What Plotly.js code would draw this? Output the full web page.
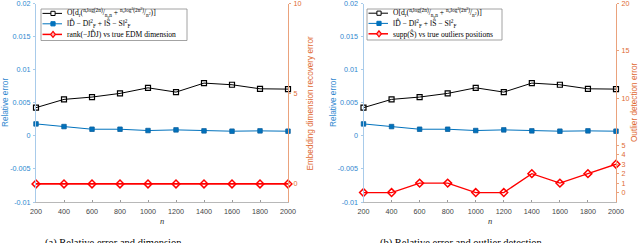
<!DOCTYPE html>
<html>
<head>
<meta charset="utf-8">
<script src="https://cdn.plot.ly/plotly-3.0.1.min.js"></script>
<style>html,body{margin:0;padding:0;background:#fff;}#chart{width:640px;height:243px;}</style>
</head>
<body>
<div id="chart"></div>
<script>
// ---------- data ----------
const nVals = [200, 400, 600, 800, 1000, 1200, 1400, 1600, 1800, 2000];
const boundVals = [0.00426, 0.00551, 0.00586, 0.00641, 0.00726, 0.00661, 0.00797, 0.00772, 0.00711, 0.00706];
const relErrVals = [0.0018, 0.0014, 0.0010, 0.0010, 0.0008, 0.0009, 0.00075, 0.0007, 0.00075, 0.0007];
const dimErrVals = [0, 0, 0, 0, 0, 0, 0, 0, 0, 0];
const outlierErrVals = [0, 0, 1, 1, 0, 0, 2, 1, 2, 3];
const leftTicks = [-0.01, -0.005, 0, 0.005, 0.01, 0.015, 0.02];
const leftTickText = ["-0.01", "-0.005", "0", "0.005", "0.01", "0.015", "0.02"];
const dimTicks = [0, 5, 10];
const outTicks = [0, 1, 2, 3, 4, 5, 10, 15, 20];
const legendBound = "O[d<sub>r</sub>(<sup>n<sub>r</sub>log(2n)</sup>/<sub>n<sub>o</sub>n</sub> + <sup>n<sub>o</sub>log<sup>2</sup>(2n<sup>2</sup>)</sup>/<sub>n<sup>2</sup></sub>)]";
const legendRel = "‖D\u0302 − D‖<sup>2</sup><sub>F</sub> + ‖S\u0302 − S‖<sup>2</sup><sub>F</sub>";
const legendDim = "rank(−JD\u0302J) vs true EDM dimension";
const legendOut = "supp(S\u0302) vs true outliers positions";

// ---------- styles ----------
const W = 640, H = 243;
const px = x => x / W;
const py = y => 1 - y / H;
const BLUE = '#0072BD', BLUE_TXT = '#2f88cf', BLUE_LINE = '#a8cbea';
const ORANGE_TXT = '#e06a33', ORANGE_LINE = '#eaa27c';
const RED = '#ff0000';
const tickFont = c => ({family: 'Liberation Sans, Arial', size: 7.2, color: c});

const yDom = [py(202), py(3.5)];
const xDomL = [px(36), px(288)];
const xDomR = [px(363.5), px(616)];

function xAxis(dom, anchor) {
  return {domain: dom, anchor: anchor, range: [200, 2000], tickvals: nVals,
    ticks: 'inside', ticklen: 2.5, tickcolor: '#9a9a9a', showline: true, linecolor: '#b8b8b8',
    linewidth: 1, showgrid: false, zeroline: false, tickfont: tickFont('#444'), ticklabelstandoff: 2,
    ticklabeloverflow: 'allow'};
}
function yLeft(anchor) {
  return {domain: yDom, anchor: anchor, range: [-0.01, 0.02], tickvals: leftTicks, ticktext: leftTickText,
    ticks: 'outside', ticklen: 2, tickcolor: BLUE_LINE, showline: true, linecolor: BLUE_LINE, linewidth: 1,
    showgrid: false, zeroline: false, tickfont: tickFont(BLUE_TXT), ticklabelstandoff: 1,
    ticklabeloverflow: 'allow'};
}
function yRight(over, anchor, range, tv) {
  return {domain: yDom, overlaying: over, side: 'right', anchor: anchor, range: range, tickvals: tv,
    ticks: 'outside', ticklen: 2, tickcolor: ORANGE_LINE, showline: true, linecolor: ORANGE_LINE, linewidth: 1,
    showgrid: false, zeroline: false, tickfont: tickFont(ORANGE_TXT), ticklabelstandoff: 1,
    ticklabeloverflow: 'allow'};
}

const blackStyle = {mode: 'lines+markers', line: {color: '#000', width: 1},
  marker: {symbol: 'square-open', size: 5, color: '#000', line: {width: 1.2, color: '#000'}}};
const blueStyle = {mode: 'lines+markers', line: {color: BLUE, width: 1},
  marker: {symbol: 'square', size: 4.5, color: BLUE, line: {width: 0.8, color: '#0a5f9e'}}};
const redStyle = {mode: 'lines+markers', line: {color: RED, width: 1.3},
  marker: {symbol: 'diamond-open', size: 6, color: RED, line: {width: 1.5, color: RED}}};

const traces = [
  Object.assign({x: nVals, y: boundVals, xaxis: 'x', yaxis: 'y'}, blackStyle),
  Object.assign({x: nVals, y: relErrVals, xaxis: 'x', yaxis: 'y'}, blueStyle),
  Object.assign({x: nVals, y: dimErrVals, xaxis: 'x', yaxis: 'y2'}, redStyle, {line: {color: RED, width: 1.8}}),
  Object.assign({x: nVals, y: boundVals, xaxis: 'x2', yaxis: 'y3'}, blackStyle),
  Object.assign({x: nVals, y: relErrVals, xaxis: 'x2', yaxis: 'y3'}, blueStyle),
  Object.assign({x: nVals, y: outlierErrVals, xaxis: 'x2', yaxis: 'y4'}, redStyle)
];
traces.forEach(t => { t.showlegend = false; t.cliponaxis = false; });

// ---------- manual legends ----------
const shapes = [];
const annotations = [];
function legend(x0, x1, y0, y1, rows, texts) {
  shapes.push({type: 'rect', xref: 'paper', yref: 'paper', x0: px(x0), x1: px(x1), y0: py(y1), y1: py(y0),
    line: {color: '#8c8c8c', width: 0.8}, fillcolor: '#fff'});
  const kinds = [['#000', 'sqopen', 1], [BLUE, 'sq', 1], [RED, 'dia', 1.5]];
  rows.forEach((ry, i) => {
    const [c, k, lw] = kinds[i];
    const lx0 = x0 + 1.5, lx1 = x0 + 21, mx = x0 + 12;
    shapes.push({type: 'line', xref: 'paper', yref: 'paper', x0: px(lx0), x1: px(lx1), y0: py(ry), y1: py(ry),
      line: {color: c, width: lw}});
    if (k === 'dia') {
      const d = 3;
      shapes.push({type: 'path', xref: 'paper', yref: 'paper',
        path: `M ${px(mx)} ${py(ry - d)} L ${px(mx + d * 0.8)} ${py(ry)} L ${px(mx)} ${py(ry + d)} L ${px(mx - d * 0.8)} ${py(ry)} Z`,
        line: {color: c, width: 1.2}, fillcolor: '#ffb0b0'});
    } else {
      const s = 2.1;
      shapes.push({type: 'rect', xref: 'paper', yref: 'paper', x0: px(mx - s), x1: px(mx + s), y0: py(ry + s), y1: py(ry - s),
        line: {color: c, width: 1}, fillcolor: k === 'sq' ? c : '#fff'});
    }
    annotations.push({xref: 'paper', yref: 'paper', x: px(x0 + 24), y: py(ry), xanchor: 'left', yanchor: 'middle',
      text: texts[i], showarrow: false, font: {family: 'Liberation Serif, DejaVu Serif, serif', size: 7.6, color: '#000'}});
  });
}
legend(41, 187, 9, 40.5, [13.4, 23.8, 34.4], [legendBound, legendRel, legendDim]);
legend(367, 502, 9, 40, [13.2, 23.4, 33.8], [legendBound, legendRel, legendOut]);

// ---------- axis titles & captions ----------
function vtitle(x, text, color) {
  annotations.push({xref: 'paper', yref: 'paper', x: px(x), y: py(103), textangle: -90, text: text, showarrow: false,
    xanchor: 'center', yanchor: 'middle', font: {family: 'Liberation Sans, Arial', size: 8.2, color: color}});
}
vtitle(6, 'Relative error', BLUE_TXT);
vtitle(310.5, 'Embedding dimension recovery error', ORANGE_TXT);
vtitle(334, 'Relative error', BLUE_TXT);
vtitle(635, 'Outlier detection error', ORANGE_TXT);
[[162, 'n'], [490, 'n']].forEach(([x, t]) => annotations.push({xref: 'paper', yref: 'paper', x: px(x), y: py(221),
  text: '<i>' + t + '</i>', showarrow: false, xanchor: 'center', yanchor: 'middle',
  font: {family: 'Liberation Serif, serif', size: 8.5, color: '#333'}}));
annotations.push({xref: 'paper', yref: 'paper', x: px(43), y: py(243.5), text: '(a) Relative error and dimension',
  showarrow: false, xanchor: 'left', yanchor: 'middle', font: {family: 'Liberation Serif, serif', size: 10.5, color: '#000'}});
annotations.push({xref: 'paper', yref: 'paper', x: px(378), y: py(243.5), text: '(b) Relative error and outlier detection',
  showarrow: false, xanchor: 'left', yanchor: 'middle', font: {family: 'Liberation Serif, serif', size: 10.5, color: '#000'}});

const layout = {
  width: W, height: H, margin: {l: 0, r: 0, t: 0, b: 0}, paper_bgcolor: '#fff', plot_bgcolor: 'rgba(0,0,0,0)',
  showlegend: false,
  xaxis: xAxis(xDomL, 'y'),
  yaxis: yLeft('x'),
  yaxis2: yRight('y', 'x', [-1, 10], dimTicks),
  xaxis2: xAxis(xDomR, 'y3'),
  yaxis3: yLeft('x2'),
  yaxis4: yRight('y3', 'x2', [-1, 20], outTicks),
  shapes: shapes, annotations: annotations
};
Plotly.newPlot('chart', traces, layout, {displayModeBar: false, staticPlot: true});
</script>
</body>
</html>
